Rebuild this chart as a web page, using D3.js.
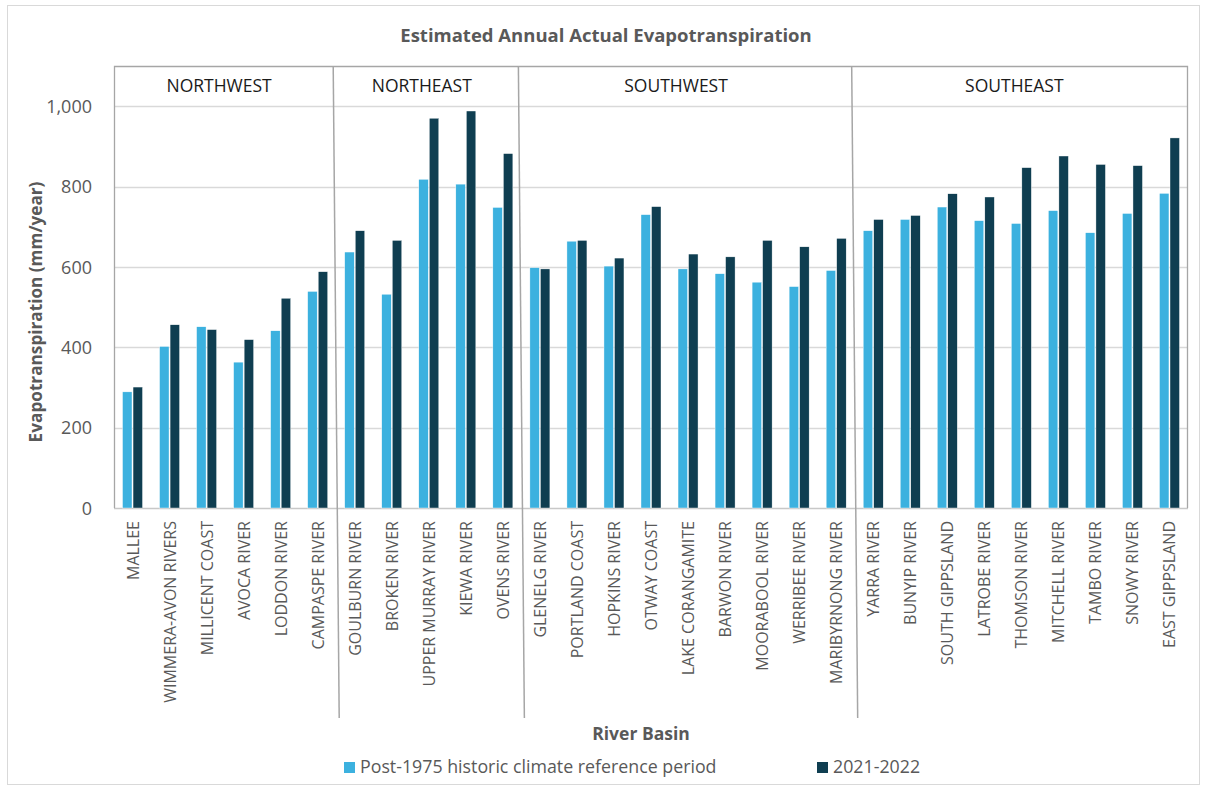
<!DOCTYPE html>
<html>
<head>
<meta charset="utf-8">
<script src="https://cdn.jsdelivr.net/npm/d3@7"></script>
<style>
  body { margin: 0; background: #fff; }
  svg text { font-family: "Open Sans", "Noto Sans", sans-serif; }
</style>
</head>
<body>
<div id="chart"></div>
<script>
// chart data
var regions = ["NORTHWEST", "NORTHEAST", "SOUTHWEST", "SOUTHEAST"];
var regionSizes = [6, 5, 9, 9];

var basins = [
    "MALLEE", "WIMMERA-AVON RIVERS", "MILLICENT COAST", "AVOCA RIVER", "LODDON RIVER", "CAMPASPE RIVER",
    "GOULBURN RIVER", "BROKEN RIVER", "UPPER MURRAY RIVER", "KIEWA RIVER", "OVENS RIVER",
    "GLENELG RIVER", "PORTLAND COAST", "HOPKINS RIVER", "OTWAY COAST", "LAKE CORANGAMITE",
    "BARWON RIVER", "MOORABOOL RIVER", "WERRIBEE RIVER", "MARIBYRNONG RIVER",
    "YARRA RIVER", "BUNYIP RIVER", "SOUTH GIPPSLAND", "LATROBE RIVER", "THOMSON RIVER",
    "MITCHELL RIVER", "TAMBO RIVER", "SNOWY RIVER", "EAST GIPPSLAND"
];

var seriesNames = ["Post-1975 historic climate reference period", "2021-2022"];

var historic = [
    289, 402, 451, 363, 441, 539,
    637, 532, 818, 806, 748,
    598, 664, 602, 730, 595, 583, 562, 551, 591,
    690, 718, 749, 715, 708, 740, 685, 733, 783
];

var recent = [
    301, 456, 444, 419, 522, 588,
    690, 666, 970, 988, 882,
    595, 666, 622, 750, 632, 625, 666, 650, 671,
    718, 728, 782, 774, 847, 876, 855, 852, 921
];

var yTicks = [0, 200, 400, 600, 800, 1000];

// svg size
var width = 1205, height = 787;
var margin = {left: 114, right: 17, top: 66, bottom: 279};
var colors = ["#3cb1df", "#0f3e51"];

var svg = d3.select("#chart")
            .append("svg")
            .attr("width", width)
            .attr("height", height);

// outer frame
svg.append("rect")
    .attr("x", 7.5).attr("y", 5.5)
    .attr("width", 1192).attr("height", 779)
    .attr("fill", "#fff")
    .attr("stroke", "#d9d9d9");

// scales
var x = d3.scaleBand()
            .domain(basins)
            .range([margin.left, width - margin.right])
            .padding(0);

var x1 = d3.scaleBand()
            .domain([0, 1])
            .range([-10, 10])
            .paddingInner(0.1);

var y = d3.scaleLinear()
            .domain([0, 1100])
            .range([height - margin.bottom, margin.top]);

var plotLeft = margin.left, plotRight = width - margin.right;

// title
svg.append("text")
    .attr("x", 606).attr("y", 42)
    .attr("text-anchor", "middle")
    .attr("font-size", 18.5)
    .attr("font-weight", "bold")
    .attr("fill", "#595959")
    .text("Estimated Annual Actual Evapotranspiration");

// gridlines
svg.append("g")
    .selectAll("line")
    .data(yTicks)
    .enter()
        .append("line")
        .attr("x1", plotLeft).attr("x2", plotRight)
        .attr("y1", function(d){ return Math.round(y(d)) + 0.5; })
        .attr("y2", function(d){ return Math.round(y(d)) + 0.5; })
        .attr("stroke", function(d){ return d == 0 ? "#c8c8c8" : "#d9d9d9"; })
        .attr("stroke-width", 1.3);

// y axis
var yAxis = svg.append("g")
                .attr("transform", "translate(" + (plotLeft - 19) + ",0)")
                .call(d3.axisLeft(y).tickValues(yTicks).tickSize(0).tickFormat(d3.format(",")));
yAxis.select(".domain").remove();
yAxis.selectAll("text")
    .attr("font-size", 18)
    .attr("fill", "#595959")
    .attr("dy", "0.35em");

svg.append("text")
    .attr("transform", "translate(42,312) rotate(-90)")
    .attr("text-anchor", "middle")
    .attr("font-size", 17.2)
    .attr("font-weight", "bold")
    .attr("fill", "#595959")
    .text("Evapotranspiration (mm/year)");

// bars
var bars = svg.append("g")
                .selectAll("g")
                .data(basins)
                .enter()
                    .append("g")
                    .attr("transform", function(d){ return "translate(" + (x(d) + x.bandwidth()/2) + ",0)"; });

bars.selectAll("rect")
    .data(function(d, i){ return [historic[i], recent[i]]; })
    .enter()
        .append("rect")
        .attr("x", function(d, j){ return x1(j); })
        .attr("width", x1.bandwidth())
        .attr("y", function(d){ return y(d); })
        .attr("height", function(d){ return y(0) - y(d); })
        .attr("fill", function(d, j){ return colors[j]; })
        .attr("stroke", "#fff")
        .attr("stroke-width", 0.4);

// x labels
svg.append("g")
    .selectAll("text")
    .data(basins)
    .enter()
        .append("text")
        .attr("transform", function(d){ return "translate(" + (x(d) + x.bandwidth()/2 + 6) + "," + (y(0) + 13) + ") rotate(-90)"; })
        .attr("text-anchor", "end")
        .attr("font-size", 16)
        .attr("fill", "#595959")
        .text(function(d){ return d; });

// plot frame (top, left, right)
svg.append("path")
    .attr("d", "M" + (plotLeft + 0.5) + "," + y(0) + "V" + (y(1100) + 0.5) + "H" + (plotRight - 0.5) + "V" + y(0))
    .attr("fill", "none")
    .attr("stroke", "#a6a6a6")
    .attr("stroke-width", 1.3);

// region separators and headers
var starts = [0];
regionSizes.forEach(function(n, i){ starts.push(starts[i] + n); });

var bw = x.bandwidth();
svg.append("g")
    .selectAll("line")
    .data(starts.slice(1, regions.length))
    .enter()
        .append("line")
        .attr("x1", function(d){ return plotLeft + d*bw - 3; })
        .attr("x2", function(d){ return plotLeft + d*bw + 3; })
        .attr("y1", y(1100))
        .attr("y2", 718)
        .attr("stroke", "#a6a6a6")
        .attr("stroke-width", 1.5);

// header boxes sit a little left of the group centres
var headerShift = [-6, -7, -12, -7];
svg.append("g")
    .selectAll("text")
    .data(regions)
    .enter()
        .append("text")
        .attr("x", function(d, i){ return plotLeft + (starts[i] + regionSizes[i]/2) * bw + headerShift[i]; })
        .attr("y", 92)
        .attr("text-anchor", "middle")
        .attr("font-size", 17.5)
        .attr("fill", "#1a1a1a")
        .text(function(d){ return d; });

// x axis title
svg.append("text")
    .attr("x", 641).attr("y", 740)
    .attr("text-anchor", "middle")
    .attr("font-size", 17.5)
    .attr("font-weight", "bold")
    .attr("fill", "#595959")
    .text("River Basin");

// legend
var legendX = [344, 817];
var legend = svg.append("g")
                .selectAll("g")
                .data(seriesNames)
                .enter()
                    .append("g")
                    .attr("transform", function(d, i){ return "translate(" + legendX[i] + ",762)"; });

legend.append("rect")
    .attr("width", 11).attr("height", 11)
    .attr("fill", function(d, i){ return colors[i]; });

legend.append("text")
    .attr("x", 16).attr("y", 11)
    .attr("font-size", 17.8)
    .attr("fill", "#595959")
    .text(function(d){ return d; });
</script>
</body>
</html>
